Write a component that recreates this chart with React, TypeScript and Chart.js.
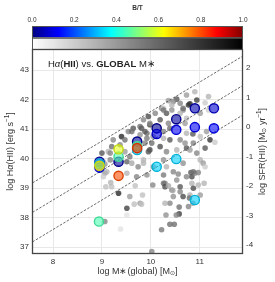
import React, { useEffect, useRef } from "react";
import { Chart, registerables } from "chart.js";
Chart.register(...registerables);

const FAM = '"Liberation Sans", Arial, Helvetica, sans-serif';

// axis ranges and ticks
const xRange = [7.57, 11.885];
const yRange = [36.77, 43.72];
const xTicks = [8, 9, 10, 11];
const yTicks = [37, 38, 39, 40, 41, 42, 43];
const sfrTicks = [-4, -3, -2, -1, 0, 1, 2];
const btTicks = [0, 0.2, 0.4, 0.6, 0.8, 1.0];
const sfrOffset = 41.07;
const ssfrLineOffsets = [31.6, 30.6, 29.6];

// gray points: log M*, log Ha, B/T
const grayX = [10.90, 10.73, 10.53, 10.36, 10.80, 10.60, 11.11, 11.18, 11.01, 10.22, 10.32, 10.09, 9.95, 9.85, 10.19, 10.36, 10.70, 10.73, 9.98, 9.78,
  9.64, 9.54, 9.40, 9.23, 9.47, 9.92, 10.26, 10.39, 10.60, 11.01, 11.14, 11.21, 10.87, 10.73, 11.11, 9.98, 10.19, 10.32, 10.53, 10.94,
  9.00, 9.13, 9.57, 9.17, 9.51, 9.74, 9.85, 10.26, 10.66, 11.01, 11.07, 9.06, 9.51, 9.71, 9.92, 10.26, 10.29, 10.53, 10.73, 10.84,
  10.60, 10.43, 10.60, 10.66, 10.80, 9.34, 9.57, 9.78, 9.20, 10.39, 10.77, 9.51, 10.02, 10.22, 10.39, 10.48, 10.58, 10.52, 10.31, 10.58,
  10.87, 10.79, 10.86, 11.01, 10.97, 10.84, 10.90, 10.82, 10.97, 10.56, 10.26, 10.29, 10.36, 10.46, 10.45, 10.04, 9.83, 9.66, 9.81, 10.29,
  11.09, 9.18, 9.08, 9.51, 9.38, 9.06, 9.06, 9.68, 11.31, 11.11, 10.87, 10.80, 10.70, 10.77, 10.66, 10.46, 10.94, 11.18, 9.03, 9.17,
  9.61, 9.81, 9.98, 10.43, 10.26, 9.92, 10.05, 9.88, 9.95, 9.47, 9.61, 9.85, 10.05, 10.32, 10.46, 9.10, 9.03,
  10.26, 10.43, 10.60, 10.66, 10.39, 10.26, 10.73, 9.88, 10.02, 9.78, 9.37, 9.20, 10.86];
const grayY = [42.27, 42.16, 42.02, 41.97, 41.86, 41.88, 41.90, 41.65, 41.54, 41.71, 41.54, 41.54, 41.43, 41.32, 41.32, 41.20, 41.20, 41.37, 41.15, 41.09,
  41.03, 40.92, 40.75, 40.64, 40.64, 40.69, 40.69, 40.64, 40.64, 40.75, 40.92, 40.64, 40.53, 40.36, 40.36, 40.30, 40.41, 40.24, 40.30, 40.19,
  40.19, 40.24, 40.07, 39.96, 39.90, 39.73, 39.96, 39.96, 39.85, 39.96, 39.85, 39.51, 39.51, 39.39, 39.45, 39.45, 39.17, 39.28, 39.39, 39.17,
  39.05, 38.94, 38.88, 38.72, 38.77, 38.83, 38.72, 38.49, 39.05, 38.49, 38.38, 38.32, 36.85, 37.59, 37.78, 37.78, 38.13, 38.09, 38.09, 38.36,
  39.00, 38.67, 38.49, 38.77, 39.11, 39.39, 39.51, 39.53, 39.53, 39.48, 39.17, 39.05, 39.08, 38.72, 38.92, 39.11, 38.77, 38.46, 38.46, 38.49,
  39.17, 39.19, 39.05, 38.09, 37.62, 37.87, 39.82, 39.08, 40.56, 39.73, 39.56, 40.30, 40.53, 41.82, 41.65, 41.94, 41.99, 42.11, 39.90, 40.19,
  40.92, 41.03, 41.20, 41.82, 41.71, 40.86, 40.75, 40.53, 40.24, 40.24, 39.85, 39.85, 39.73, 39.73, 39.56, 39.56, 39.39,
  41.65, 41.65, 41.54, 41.71, 41.03, 40.92, 40.86, 40.92, 40.53, 40.81, 40.47, 40.41, 40.84];
const grayBT = [0.3, 0.4, 0.7, 0.4, 0.9, 0.5, 0.2, 0.2, 0.4, 0.5, 0.7, 0.5, 0.75, 0.5, 0.7, 0.5, 0.4, 0.25, 0.8, 0.6,
  0.7, 0.5, 0.9, 0.5, 0.6, 0.55, 0.3, 0.7, 0.5, 0.25, 0.4, 0.85, 0.5, 0.7, 0.7, 0.8, 0.75, 0.5, 0.3, 0.5,
  0.7, 0.3, 0.55, 0.5, 0.65, 0.5, 0.3, 0.45, 0.45, 0.3, 0.4, 0.4, 0.3, 0.5, 0.45, 0.55, 0.5, 0.45, 0.5, 0.3,
  0.7, 0.5, 0.5, 0.75, 0.3, 0.9, 0.4, 0.4, 0.25, 0.5, 0.5, 0.8, 0.5, 0.55, 0.6, 0.6, 0.8, 0.5, 0.45, 0.6,
  0.75, 0.6, 0.4, 0.4, 0.3, 0.75, 0.5, 0.7, 0.5, 0.5, 0.6, 0.75, 0.35, 0.45, 0.35, 0.5, 0.25, 0.25, 0.25, 0.3,
  0.3, 0.3, 0.25, 0.1, 0.1, 0.5, 0.45, 0.25, 0.2, 0.2, 0.6, 0.4, 0.45, 0.85, 0.5, 0.5, 0.8, 0.3, 0.3, 0.5,
  0.6, 0.7, 0.5, 0.3, 0.2, 0.6, 0.4, 0.5, 0.7, 0.4, 0.35, 0.3, 0.4, 0.3, 0.5, 0.3, 0.2,
  0.6, 0.45, 0.3, 0.6, 0.6, 0.5, 0.3, 0.7, 0.6, 0.45, 0.5, 0.6, 0.7];

// highlighted (coloured) galaxies
const colX = [10.90, 11.29, 10.52, 10.12, 10.12, 10.52, 10.90, 11.29, 9.72, 9.72, 9.72, 9.72, 9.34, 9.34, 9.34, 8.95, 8.95, 8.95, 8.95, 9.34, 10.12, 10.52, 10.90, 8.94];
const colY = [41.71, 41.71, 41.34, 41.03, 40.84, 40.98, 41.07, 41.03, 40.58, 40.30, 40.43, 40.36, 39.90, 40.07, 40.32, 39.90, 39.70, 39.84, 39.76, 39.42, 39.73, 39.99, 38.60, 37.87];
const colBT = [0.05, 0.08, 0.03, 0.02, 0.1, 0.12, 0.12, 0.13, 0.03, 0.33, 0.45, 0.82, 0.03, 0.45, 0.6, 0.04, 0.1, 0.32, 0.62, 0.8, 0.33, 0.33, 0.33, 0.45];

function jet(v: number): number[] {
  const c = (t: number) => Math.max(0, Math.min(1, t));
  return [c(1.5 - Math.abs(4 * v - 3)), c(1.5 - Math.abs(4 * v - 2)), c(1.5 - Math.abs(4 * v - 1))].map((t) => Math.round(t * 255));
}
function grayOf(bt: number, a: number) {
  const v = Math.round(255 * (1 - bt) * 0.9 + 20);
  return `rgba(${v},${v},${v},${a})`;
}

type Seg = { t: string; b?: boolean; i?: boolean; sup?: boolean; sub?: boolean };
function drawRich(ctx: CanvasRenderingContext2D, segs: Seg[], x: number, y: number, size: number, align: "left" | "center") {
  const fontFor = (s: Seg) => `${s.i ? "italic " : ""}${s.b ? "bold " : ""}${s.sup || s.sub ? size * 0.7 : size}px ${FAM}`;
  const widths = segs.map((s) => { ctx.font = fontFor(s); return ctx.measureText(s.t).width; });
  const total = widths.reduce((p, q) => p + q, 0);
  let cx = align === "center" ? x - total / 2 : x;
  ctx.textAlign = "left";
  segs.forEach((s, k) => {
    ctx.font = fontFor(s);
    const dy = s.sup ? -size * 0.4 : s.sub ? size * 0.15 : 0;
    ctx.fillText(s.t, cx, y + dy);
    cx += widths[k];
  });
}

const decor = {
  id: "decor",
  afterDraw(chart: any) {
    const { ctx, chartArea: a } = chart;
    const w = a.right - a.left;
    ctx.save();
    // colour bars
    const cbTop = 26, cbMid = 37.5;
    const jg = ctx.createLinearGradient(a.left, 0, a.right, 0);
    for (let i = 0; i <= 40; i++) { const [r, g, b] = jet(i / 40); jg.addColorStop(i / 40, `rgb(${r},${g},${b})`); }
    ctx.fillStyle = jg; ctx.fillRect(a.left, cbTop, w, cbMid - cbTop);
    const gg = ctx.createLinearGradient(a.left, 0, a.right, 0);
    gg.addColorStop(0, "#ffffff"); gg.addColorStop(1, "#000000");
    ctx.fillStyle = gg; ctx.fillRect(a.left, cbMid, w, a.top - cbMid);
    ctx.strokeStyle = "#555"; ctx.lineWidth = 1;
    ctx.strokeRect(a.left + 0.5, cbTop + 0.5, w - 1, cbMid - cbTop);
    ctx.strokeRect(a.left + 0.5, cbMid + 0.5, w - 1, a.top - cbMid);
    ctx.fillStyle = "#333"; ctx.textBaseline = "middle"; ctx.textAlign = "center";
    ctx.font = `6.5px ${FAM}`;
    btTicks.forEach((t) => ctx.fillText(t.toFixed(1), a.left + t * w, 20.5));
    ctx.font = `bold 6.5px ${FAM}`;
    ctx.fillText("B/T", a.left + w / 2, 8);
    // plot frame
    ctx.strokeStyle = "#444"; ctx.lineWidth = 1.3;
    ctx.strokeRect(a.left + 0.5, a.top + 0.5, w - 1, a.bottom - a.top - 1);
    // in-plot title
    ctx.fillStyle = "#222"; ctx.textBaseline = "alphabetic";
    drawRich(ctx, [{ t: "H" }, { t: "α", i: true }, { t: "(" }, { t: "HII", b: true }, { t: ") vs. " }, { t: "GLOBAL", b: true }, { t: " M∗" }], a.left + 16, a.top + 17.5, 9.5, "left");
    // axis titles
    ctx.fillStyle = "#333"; ctx.textBaseline = "middle";
    const cy = (a.top + a.bottom) / 2;
    drawRich(ctx, [{ t: "log M∗(global) [M" }, { t: "⊙", sub: true }, { t: "]" }], (a.left + a.right) / 2, 272, 9, "center");
    ctx.save(); ctx.translate(10.5, cy); ctx.rotate(-Math.PI / 2);
    drawRich(ctx, [{ t: "log H" }, { t: "α", i: true }, { t: "(HII) [erg s" }, { t: "−1", sup: true }, { t: "]" }], 0, 0, 9, "center");
    ctx.restore();
    ctx.save(); ctx.translate(263, cy); ctx.rotate(-Math.PI / 2);
    drawRich(ctx, [{ t: "log SFR(HII) [M" }, { t: "⊙", sub: true }, { t: " yr" }, { t: "−1", sup: true }, { t: "]" }], 0, 0, 9, "center");
    ctx.restore();
    ctx.restore();
  },
};

export default function App() {
  const ref = useRef<HTMLCanvasElement>(null);
  useEffect(() => {
    document.body.style.margin = "0";
    const canvas = ref.current!;
    const lineSets = ssfrLineOffsets.map((c) => ({
      type: "line" as const,
      data: [{ x: xRange[0] - 0.2, y: xRange[0] - 0.2 + c }, { x: xRange[1] + 0.2, y: xRange[1] + 0.2 + c }],
      borderColor: "#444",
      borderWidth: 0.8,
      borderDash: [2.5, 1.5],
      pointRadius: 0,
      showLine: true,
      fill: false,
      order: 1,
    }));
    const chart = new Chart(canvas, {
      type: "scatter",
      data: {
        datasets: [
          {
            data: colX.map((x, i) => ({ x, y: colY[i] })),
            pointRadius: 4.6,
            pointBackgroundColor: colBT.map((b) => { const [r, g, bb] = jet(b); return `rgba(${r},${g},${bb},0.6)`; }),
            pointBorderColor: colBT.map((b) => { const [r, g, bb] = jet(b); return `rgb(${Math.round(r * 0.85)},${Math.round(g * 0.85)},${Math.round(bb * 0.85)})`; }),
            pointBorderWidth: 1.4,
            order: 0,
          } as any,
          ...lineSets,
          {
            data: grayX.map((x, i) => ({ x, y: grayY[i] })),
            pointRadius: 2.8,
            pointBackgroundColor: grayBT.map((b) => grayOf(b, 0.8)),
            pointBorderWidth: 0,
            order: 2,
          },
        ],
      },
      options: {
        responsive: false,
        animation: false,
        devicePixelRatio: 1,
        layout: { padding: { top: 49, left: 0, right: 0, bottom: 0 } },
        plugins: { legend: { display: false }, tooltip: { enabled: false } },
        scales: {
          x: {
            type: "linear", position: "bottom", min: xRange[0], max: xRange[1],
            afterBuildTicks: (s: any) => { s.ticks = xTicks.map((v) => ({ value: v })); },
            afterFit: (s: any) => { s.height = 28; },
            ticks: { font: { size: 8, family: FAM }, color: "#333", padding: 3 },
            grid: { color: "#e8e8e8", drawTicks: false },
            border: { display: false },
          },
          y: {
            type: "linear", position: "left", min: yRange[0], max: yRange[1],
            afterBuildTicks: (s: any) => { s.ticks = yTicks.map((v) => ({ value: v })); },
            afterFit: (s: any) => { s.width = 32; },
            ticks: { font: { size: 8, family: FAM }, color: "#333", padding: 3 },
            grid: { color: "#e8e8e8", drawTicks: false },
            border: { display: false },
          },
          y2: {
            type: "linear", position: "right", min: yRange[0] - sfrOffset, max: yRange[1] - sfrOffset,
            afterBuildTicks: (s: any) => { s.ticks = sfrTicks.map((v) => ({ value: v })); },
            afterFit: (s: any) => { s.width = 32; },
            ticks: { font: { size: 8, family: FAM }, color: "#333", padding: 3 },
            grid: { display: false, drawTicks: false },
            border: { display: false },
          },
        },
      } as any,
      plugins: [decor],
    });
    return () => chart.destroy();
  }, []);
  return <canvas ref={ref} width={275} height={282} style={{ display: "block" }} />;
}
